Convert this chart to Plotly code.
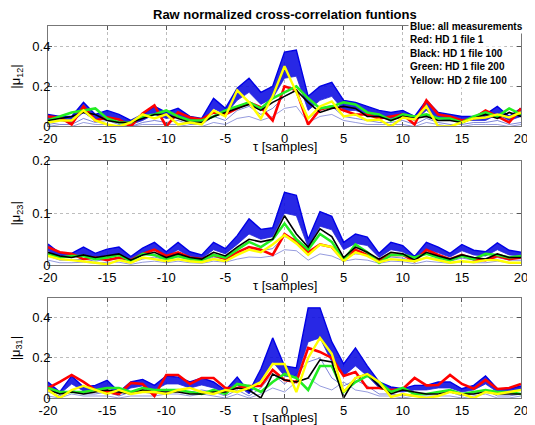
import plotly.graph_objects as go

tau = list(range(-20, 21))
x_tick_vals = [-20, -15, -10, -5, 0, 5, 10, 15, 20]
x_tick_text = ["-20", "-15", "-10", "-5", "0", "5", "10", "15", "20"]
y_ticks_a = [0, 0.2, 0.4]
y_ticks_a_text = ["0", "0.2", "0.4"]
y_ticks_b = [0, 0.1, 0.2]
y_ticks_b_text = ["0", "0.1", "0.2"]

title_text = "Raw normalized cross-correlation funtions"
legend_lines = ["Blue: all measurements", "Red: HD 1 file 1", "Black: HD 1 file 100",
                "Green: HD 1 file 200", "Yellow: HD 2 file 100"]
y_labels = ["|\u03bc<sub>12</sub>|", "|\u03bc<sub>23</sub>|", "|\u03bc<sub>31</sub>|"]
x_label = "\u03c4 [samples]"

# ---------------- subplot 1 : |mu12| ----------------
blue_hi_12 = [0.06,0.05,0.05,0.12,0.06,0.08,0.06,0.03,0.06,0.10,0.07,0.09,0.05,0.04,0.14,0.09,0.19,0.24,0.17,0.20,
              0.37,0.38,0.15,0.20,0.22,0.13,0.12,0.10,0.08,0.07,0.08,0.05,0.13,0.07,0.06,0.05,0.05,0.06,0.10,0.05,0.09]
blue_lo_12 = [0.03,0.03,0.02,0.07,0.03,0.05,0.03,0.01,0.03,0.06,0.04,0.05,0.03,0.02,0.09,0.06,0.13,0.17,0.11,0.14,
              0.24,0.25,0.08,0.13,0.15,0.08,0.08,0.06,0.05,0.04,0.05,0.03,0.08,0.04,0.03,0.03,0.03,0.03,0.06,0.03,0.05]
blue_thin_a_12 = [0.02,0.01,0.01,0.04,0.02,0.03,0.01,0.00,0.02,0.03,0.02,0.03,0.01,0.01,0.05,0.03,0.08,0.10,0.06,0.09,
                  0.15,0.18,0.04,0.08,0.10,0.05,0.04,0.03,0.02,0.02,0.03,0.01,0.04,0.02,0.01,0.01,0.02,0.02,0.03,0.01,0.02]
blue_thin_b_12 = [0.01,0.00,0.00,0.02,0.01,0.01,0.00,0.00,0.01,0.01,0.01,0.01,0.00,0.00,0.02,0.01,0.04,0.05,0.03,0.05,
                  0.09,0.10,0.02,0.05,0.06,0.03,0.02,0.01,0.01,0.01,0.01,0.00,0.02,0.01,0.00,0.00,0.01,0.01,0.01,0.00,0.01]
red_12 = [0.05,0.045,0.01,0.10,0.03,0.045,0.035,0.00,0.065,0.105,0.00,0.07,0.045,0.035,0.07,0.06,0.09,0.12,0.095,0.03,
          0.20,0.18,0.01,0.085,0.10,0.08,0.06,0.06,0.04,0.05,0.06,0.01,0.13,0.06,0.05,0.03,0.04,0.08,0.05,0.02,0.09]
black_12 = [0.03,0.04,0.05,0.07,0.06,0.03,0.02,0.02,0.04,0.06,0.06,0.04,0.02,0.02,0.05,0.07,0.09,0.11,0.08,0.12,
            0.15,0.18,0.12,0.07,0.09,0.10,0.09,0.05,0.05,0.03,0.05,0.04,0.05,0.03,0.03,0.02,0.04,0.06,0.04,0.07,0.05]
green_12 = [0.03,0.05,0.07,0.08,0.09,0.04,0.02,0.02,0.05,0.06,0.08,0.05,0.03,0.03,0.05,0.08,0.10,0.12,0.09,0.14,
            0.17,0.20,0.14,0.09,0.10,0.12,0.11,0.07,0.06,0.03,0.06,0.05,0.06,0.04,0.04,0.02,0.05,0.07,0.05,0.09,0.06]
yellow_12 = [0.02,0.03,0.03,0.08,0.03,0.01,0.00,0.02,0.06,0.04,0.06,0.01,0.02,0.01,0.08,0.05,0.18,0.12,0.04,0.15,
             0.30,0.17,0.04,0.10,0.125,0.05,0.06,0.03,0.035,0.00,0.045,0.035,0.10,0.00,0.00,0.02,0.04,0.045,0.06,0.045,0.07]

# ---------------- subplot 2 : |mu23| ----------------
blue_hi_23 = [0.041,0.023,0.023,0.035,0.023,0.031,0.035,0.017,0.033,0.044,0.026,0.044,0.026,0.020,0.044,0.032,0.057,0.089,0.069,0.072,
              0.140,0.134,0.050,0.103,0.094,0.044,0.060,0.054,0.023,0.044,0.038,0.017,0.044,0.035,0.023,0.040,0.029,0.026,0.043,0.029,0.025]
blue_lo_23 = [0.028,0.015,0.015,0.022,0.015,0.020,0.022,0.010,0.020,0.030,0.017,0.030,0.016,0.013,0.030,0.022,0.040,0.060,0.050,0.055,
              0.100,0.095,0.035,0.075,0.068,0.030,0.042,0.038,0.015,0.030,0.026,0.011,0.030,0.024,0.016,0.028,0.020,0.018,0.030,0.020,0.018]
blue_thin_a_23 = [0.018,0.010,0.010,0.012,0.008,0.012,0.012,0.005,0.012,0.016,0.010,0.016,0.010,0.008,0.016,0.012,0.022,0.030,0.028,0.032,
                  0.055,0.050,0.020,0.040,0.035,0.015,0.022,0.020,0.008,0.016,0.014,0.006,0.016,0.012,0.008,0.014,0.010,0.009,0.015,0.010,0.010]
blue_thin_b_23 = [0.010,0.005,0.005,0.006,0.004,0.006,0.006,0.002,0.006,0.008,0.005,0.008,0.005,0.004,0.008,0.006,0.012,0.016,0.015,0.018,
                  0.030,0.028,0.010,0.022,0.018,0.008,0.012,0.010,0.004,0.008,0.007,0.003,0.008,0.006,0.004,0.007,0.005,0.005,0.008,0.005,0.005]
red_23 = [0.035,0.025,0.022,0.012,0.015,0.010,0.015,0.010,0.022,0.030,0.018,0.025,0.015,0.012,0.020,0.012,0.025,0.035,0.030,0.020,
          0.060,0.045,0.025,0.040,0.035,0.010,0.030,0.020,0.010,0.020,0.020,0.008,0.030,0.020,0.012,0.020,0.012,0.010,0.018,0.012,0.015]
black_23 = [0.025,0.018,0.015,0.020,0.015,0.018,0.022,0.010,0.020,0.025,0.015,0.022,0.015,0.012,0.025,0.018,0.035,0.050,0.045,0.050,
            0.095,0.060,0.035,0.070,0.055,0.015,0.035,0.025,0.012,0.025,0.022,0.010,0.025,0.018,0.012,0.020,0.015,0.012,0.022,0.015,0.015]
green_23 = [0.022,0.015,0.018,0.018,0.012,0.015,0.020,0.008,0.022,0.020,0.012,0.018,0.012,0.010,0.020,0.015,0.030,0.045,0.035,0.050,
            0.080,0.050,0.030,0.060,0.045,0.010,0.040,0.025,0.005,0.020,0.020,0.015,0.022,0.015,0.010,0.018,0.012,0.022,0.020,0.015,0.018]
yellow_23 = [0.018,0.012,0.010,0.008,0.005,0.002,0.010,0.005,0.015,0.012,0.008,0.012,0.008,0.006,0.012,0.008,0.020,0.030,0.025,0.040,
             0.058,0.042,0.020,0.040,0.035,0.008,0.025,0.018,0.006,0.012,0.010,0.008,0.015,0.010,0.005,0.008,0.006,0.010,0.010,0.005,0.005]

# ---------------- subplot 3 : |mu31| ----------------
blue_hi_31 = [0.08,0.03,0.11,0.055,0.063,0.088,0.03,0.08,0.093,0.063,0.11,0.104,0.08,0.10,0.08,0.038,0.104,0.03,0.145,0.30,
              0.16,0.15,0.45,0.45,0.28,0.17,0.25,0.16,0.08,0.055,0.046,0.063,0.063,0.08,0.08,0.046,0.063,0.11,0.046,0.046,0.06]
blue_lo_31 = [0.05,0.02,0.07,0.035,0.04,0.055,0.02,0.05,0.06,0.04,0.07,0.07,0.05,0.065,0.05,0.025,0.065,0.02,0.09,0.18,
              0.11,0.10,0.28,0.30,0.18,0.11,0.16,0.11,0.05,0.035,0.03,0.04,0.04,0.05,0.05,0.03,0.04,0.07,0.03,0.03,0.04]
blue_thin_a_31 = [0.03,0.01,0.04,0.02,0.02,0.03,0.01,0.03,0.03,0.02,0.04,0.04,0.03,0.04,0.03,0.01,0.04,0.01,0.05,0.12,
                  0.07,0.12,0.18,0.20,0.10,0.06,0.09,0.06,0.02,0.02,0.01,0.02,0.02,0.03,0.03,0.01,0.02,0.04,0.01,0.01,0.02]
blue_thin_b_31 = [0.01,0.00,0.02,0.01,0.01,0.01,0.00,0.01,0.01,0.01,0.02,0.02,0.01,0.02,0.01,0.00,0.02,0.00,0.02,0.05,
                  0.03,0.08,0.10,0.06,0.04,0.08,0.04,0.03,0.01,0.01,0.00,0.01,0.01,0.01,0.01,0.00,0.01,0.02,0.00,0.00,0.01]
red_31 = [0.05,0.08,0.115,0.08,0.04,0.03,0.02,0.075,0.07,0.01,0.115,0.115,0.07,0.10,0.10,0.05,0.05,0.06,0.06,0.14,
          0.09,0.08,0.25,0.23,0.20,0.11,0.13,0.05,0.05,0.04,0.045,0.10,0.063,0.065,0.115,0.07,0.046,0.09,0.045,0.05,0.07]
black_31 = [0.04,0.02,0.03,0.02,0.03,0.04,0.03,0.02,0.04,0.03,0.03,0.03,0.02,0.02,0.03,0.03,0.05,0.04,0.00,0.12,
            0.09,0.08,0.10,0.19,0.18,0.00,0.10,0.12,0.06,0.02,0.04,0.03,0.02,0.02,0.03,0.02,0.02,0.03,0.02,0.02,0.02]
green_31 = [0.05,0.03,0.03,0.03,0.04,0.05,0.05,0.03,0.05,0.04,0.04,0.04,0.03,0.02,0.04,0.02,0.07,0.06,0.03,0.08,
            0.12,0.10,0.04,0.16,0.16,0.03,0.08,0.11,0.08,0.03,0.05,0.02,0.02,0.03,0.04,0.02,0.03,0.04,0.03,0.03,0.02]
yellow_31 = [0.04,0.00,0.04,0.06,0.04,0.02,0.04,0.02,0.03,0.03,0.02,0.04,0.05,0.03,0.02,0.04,0.03,0.05,0.08,0.17,
             0.17,0.03,0.20,0.30,0.22,0.03,0.10,0.12,0.08,0.005,0.02,0.01,0.00,0.01,0.03,0.02,0.00,0.03,0.02,0.03,0.04]

panels = [
    dict(hi=blue_hi_12, lo=blue_lo_12, ta=blue_thin_a_12, tb=blue_thin_b_12,
         red=red_12, black=black_12, green=green_12, yellow=yellow_12),
    dict(hi=blue_hi_23, lo=blue_lo_23, ta=blue_thin_a_23, tb=blue_thin_b_23,
         red=red_23, black=black_23, green=green_23, yellow=yellow_23),
    dict(hi=blue_hi_31, lo=blue_lo_31, ta=blue_thin_a_31, tb=blue_thin_b_31,
         red=red_31, black=black_31, green=green_31, yellow=yellow_31),
]

# The page body keeps the browser's default 8px margin, so the figure is
# drawn 8px right/down of the window corner: size it to the remaining area.
OFF = 8
W, H = 535 - OFF, 425 - OFF
ML, MR, MT, MB = 40, 7, 18, 24
PH = H - MT - MB
PW = W - ML - MR

def py(p):  # window pixel y -> paper y
    return (H - MB - (p - OFF)) / PH

def px(p):  # window pixel x -> paper x
    return (p - OFF - ML) / PW

# window pixel positions of panels (top, bottom)
panel_px = [(26, 127.3), (162, 267.3), (300, 401)]
y_ranges = [[0, 0.5], [0, 0.2], [0, 0.5]]
y_tv = [y_ticks_a, y_ticks_b, y_ticks_a]
y_tt = [y_ticks_a_text, y_ticks_b_text, y_ticks_a_text]

FONT = "Arial, Liberation Sans, sans-serif"
fig = go.Figure()

for i, d in enumerate(panels):
    xa = "x" if i == 0 else f"x{i+1}"
    ya = "y" if i == 0 else f"y{i+1}"
    common = dict(x=tau, xaxis=xa, yaxis=ya, mode="lines", showlegend=False, hoverinfo="skip")
    fig.add_trace(go.Scatter(y=d["tb"], line=dict(color="rgba(80,90,200,0.6)", width=1), **common))
    fig.add_trace(go.Scatter(y=d["ta"], line=dict(color="rgba(70,80,200,0.7)", width=1), **common))
    fig.add_trace(go.Scatter(y=d["lo"], line=dict(color="rgba(40,40,220,0.8)", width=1), **common))
    fig.add_trace(go.Scatter(y=d["hi"], line=dict(color="#0000e6", width=1.4), fill="tonexty",
                             fillcolor="rgba(10,10,225,0.88)", **common))
    fig.add_trace(go.Scatter(y=d["red"], line=dict(color="#ff0000", width=2.6), **common))
    fig.add_trace(go.Scatter(y=d["green"], line=dict(color="#22ee22", width=2.6), **common))
    fig.add_trace(go.Scatter(y=d["black"], line=dict(color="#000000", width=1.6), **common))
    fig.add_trace(go.Scatter(y=d["yellow"], line=dict(color="#ffff00", width=2.4), **common))

axis_common = dict(showline=True, linecolor="#777777", linewidth=1, mirror="ticks",
                   ticks="inside", ticklen=4, tickcolor="#555555",
                   showgrid=True, gridcolor="#bdbdbd", griddash="dot", gridwidth=1,
                   zeroline=False, tickfont=dict(family=FONT, size=13, color="#000000"))

layout = dict(width=W, height=H, margin=dict(l=ML, r=MR, t=MT, b=MB, pad=0),
              paper_bgcolor="white", plot_bgcolor="white", showlegend=False)
for i in range(3):
    top, bot = panel_px[i]
    xk = "xaxis" if i == 0 else f"xaxis{i+1}"
    yk = "yaxis" if i == 0 else f"yaxis{i+1}"
    ya = "y" if i == 0 else f"y{i+1}"
    xa = "x" if i == 0 else f"x{i+1}"
    layout[xk] = dict(axis_common, domain=[0, 1], anchor=ya, range=[-20, 20],
                      tickvals=x_tick_vals, ticktext=x_tick_text)
    layout[yk] = dict(axis_common, domain=[py(bot), py(top)], anchor=xa, range=y_ranges[i],
                      tickvals=y_tv[i], ticktext=y_tt[i], ticklabelstandoff=-6)
fig.update_layout(**layout)

ann = []
ann.append(dict(text="<b>" + title_text + "</b>", xref="paper", yref="paper", x=0.5, y=py(14),
                xanchor="center", yanchor="middle", showarrow=False,
                font=dict(family=FONT, size=13, color="#000000")))
for i in range(3):
    top, bot = panel_px[i]
    ann.append(dict(text=y_labels[i], xref="paper", yref="paper", x=px(16), y=py((top + bot) / 2),
                    textangle=-90, xanchor="center", yanchor="middle", showarrow=False,
                    font=dict(family=FONT, size=13, color="#000000")))
    xa = "x" if i == 0 else f"x{i+1}"
    ann.append(dict(text=x_label, xref=xa, yref="paper", x=0, y=py(bot + 20),
                    xanchor="center", yanchor="middle", showarrow=False,
                    font=dict(family=FONT, size=13, color="#000000")))
leg_y = [26, 40, 53.5, 67.3, 80.7]
for t, yy in zip(legend_lines, leg_y):
    ann.append(dict(text="<b>" + t + "</b>", xref="paper", yref="paper", x=px(413), y=py(yy),
                    xanchor="left", yanchor="middle", showarrow=False, bgcolor="white",
                    borderpad=1, font=dict(family=FONT, size=10, color="#000000")))
fig.update_layout(annotations=ann)

fig.write_html("out.html")
